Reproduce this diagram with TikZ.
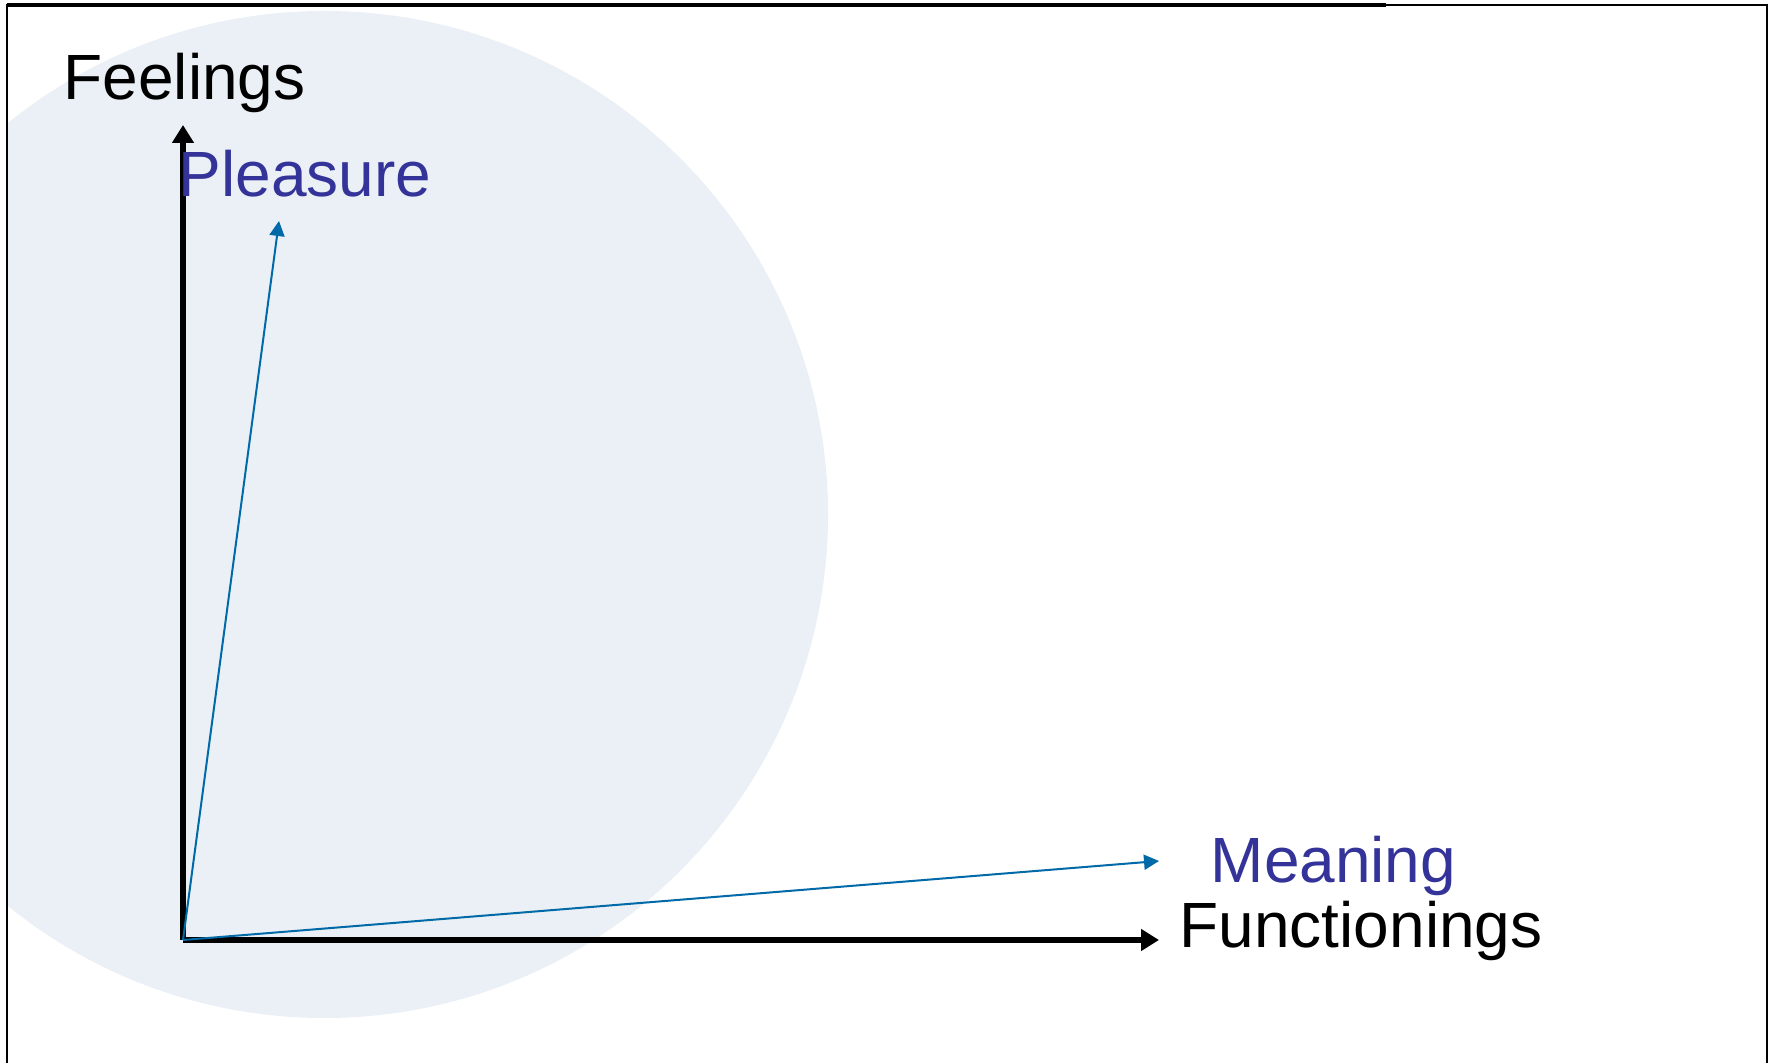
\documentclass[tikz,border=0pt]{standalone}
\usepackage{xcolor}
\usepackage{fontspec}
\setmainfont{Liberation Sans}
\usepackage{tikz}
\usetikzlibrary{arrows.meta}

\definecolor{bgcircle}{HTML}{EAF0F5}
\definecolor{vecblue}{HTML}{0069A8}
\definecolor{txtblue}{HTML}{333399}

\begin{document}
\begin{tikzpicture}[>=latex,
	axis/.style={line width=0.055cm, -{Triangle[length=0.18cm, width=0.21cm]}},
	vec/.style={vecblue, line width=0.02cm, -{Triangle[length=0.15cm, width=0.15cm]}},
	lbl/.style={inner sep=0pt, anchor=base west, font=\fontsize{18.2}{22}\selectfont}]
			\useasboundingbox (0,0) rectangle (17.76,10.63);
			% 浅色圆,被外框裁掉左边
			\begin{scope}
				\clip (0.07,0) rectangle (17.67,10.58);
				\fill[bgcircle] (3.245,5.485) circle (5.035cm);
			\end{scope}
			% 外框(底边在画面外)
			\draw[line width=0.02cm] (0.07,0) -- (0.07,10.58) -- (17.67,10.58) -- (17.67,0);
			\draw[line width=0.035cm] (0.07,10.58) -- (13.86,10.58); % 上边左段稍粗
			% 原点和各箭头端点
			\coordinate (O) at (1.83,1.23);
			\coordinate (feel) at (1.83,9.38);
			\coordinate (func) at (11.59,1.23);
			\coordinate (plea) at (2.79,8.42);
			\coordinate (mean) at (11.59,2.02);
			% 两条坐标轴
			\draw[axis] (O) -- (feel);
			\draw[axis] (O) -- (func);
			% 两个向量
			\draw[vec] (O) -- (plea);
			\draw[vec] (O) -- (mean);
			% 文字
			\node[lbl] (feelings) at (0.63,9.63) {Feelings};
			\node[lbl, txtblue] (pleasure) at (1.78,8.66) {Pleasure};
			\node[lbl, txtblue] (meaning) at (12.10,1.80) {Meaning};
			\node[lbl] (functionings) at (11.79,1.15) {Functionings};
		\end{tikzpicture}
\end{document}
